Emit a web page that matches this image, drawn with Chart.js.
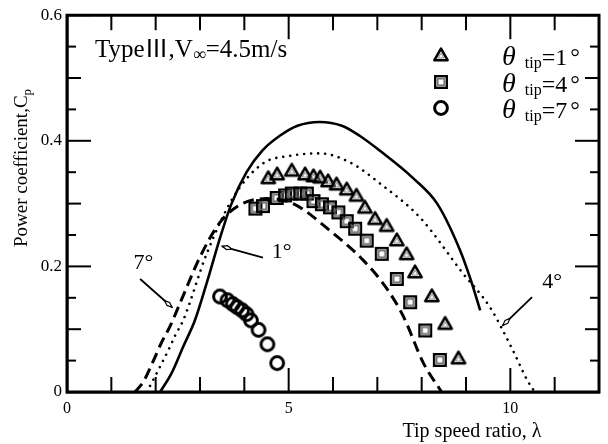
<!DOCTYPE html>
<html><head><meta charset="utf-8">
<script src="https://cdn.jsdelivr.net/npm/chart.js@4.4.1/dist/chart.umd.min.js"></script>
<style>html,body{margin:0;padding:0;background:#fff;}</style>
</head><body>
<canvas id="c" width="608" height="444"></canvas>
<script>
// ---------- data ----------
const xTickLabels = [0, 5, 10];
const yTickLabels = [0, 0.2, 0.4, 0.6];
const seriesNames = ['1°', '4°', '7°'];

// theoretical curves
const theory1X = [2.1, 2.36, 2.62, 2.89, 3.2, 3.45, 3.7, 4.05, 4.4, 4.8, 5.2, 5.7, 6.2, 6.6, 7.06, 7.8, 8.35, 8.87, 9.1, 9.32];
const theory1Y = [0, 0.03, 0.072, 0.115, 0.185, 0.245, 0.298, 0.35, 0.384, 0.408, 0.424, 0.43, 0.424, 0.408, 0.384, 0.341, 0.3, 0.225, 0.18, 0.13];

const theory4X = [1.8, 1.98, 2.14, 2.29, 2.44, 2.62, 3.15, 3.75, 4.42, 5.03, 5.7, 6.4, 7.06, 7.96, 8.93, 9.54, 10.06, 10.38, 10.55];
const theory4Y = [0, 0.024, 0.046, 0.067, 0.09, 0.114, 0.22, 0.31, 0.364, 0.376, 0.38, 0.365, 0.332, 0.278, 0.189, 0.135, 0.066, 0.019, 0];

const theory7X = [1.53, 1.72, 1.95, 2.14, 2.32, 2.6, 3.0, 3.45, 3.9, 4.5, 5.1, 5.93, 6.68, 7.21, 7.59, 8.04, 8.45];
const theory7Y = [0, 0.016, 0.05, 0.08, 0.104, 0.15, 0.215, 0.27, 0.298, 0.308, 0.3, 0.257, 0.21, 0.165, 0.12, 0.046, 0];

// experimental points
const exp1X = [4.54, 4.74, 5.07, 5.37, 5.56, 5.71, 5.89, 6.08, 6.31, 6.53, 6.72, 6.95, 7.21, 7.44, 7.66, 7.85, 8.23, 8.53, 8.83];
const exp1Y = [0.341, 0.347, 0.353, 0.347, 0.344, 0.342, 0.336, 0.331, 0.323, 0.313, 0.294, 0.276, 0.265, 0.242, 0.22, 0.191, 0.153, 0.109, 0.054];

const exp4X = [4.25, 4.42, 4.73, 4.92, 5.07, 5.26, 5.41, 5.56, 5.75, 5.93, 6.12, 6.31, 6.5, 6.76, 7.1, 7.44, 7.74, 8.08, 8.41];
const exp4Y = [0.292, 0.296, 0.309, 0.313, 0.316, 0.316, 0.316, 0.304, 0.299, 0.294, 0.286, 0.272, 0.26, 0.241, 0.22, 0.18, 0.143, 0.098, 0.051];

const exp7X = [3.45, 3.62, 3.74, 3.84, 3.95, 4.05, 4.15, 4.32, 4.52, 4.74];
const exp7Y = [0.152, 0.146, 0.14, 0.135, 0.13, 0.124, 0.114, 0.099, 0.076, 0.046];

// ---------- markers ----------
function makeMarker(kind) {
  const c = document.createElement('canvas');
  const S = 18; c.width = S; c.height = S;
  const g = c.getContext('2d');
  const m = S / 2;
  g.strokeStyle = '#000';
  if (kind === 'tri') {
    g.beginPath(); g.moveTo(m, 2.6); g.lineTo(m + 6.6, 14.2); g.lineTo(m - 6.6, 14.2); g.closePath();
    g.lineWidth = 2.6; g.lineJoin = 'round'; g.stroke();
    g.beginPath(); g.moveTo(m, 7.2); g.lineTo(m + 2.8, 12); g.lineTo(m - 2.8, 12); g.closePath();
    g.lineWidth = 1; g.strokeStyle = '#888'; g.stroke();
  } else if (kind === 'sq') {
    g.lineWidth = 2.4; g.strokeRect(m - 5.8, m - 5.8, 11.6, 11.6);
    g.lineWidth = 1.4; g.strokeStyle = '#666'; g.strokeRect(m - 3.2, m - 3.2, 6.4, 6.4);
  } else {
    g.beginPath(); g.arc(m, m, 6.4, 0, Math.PI * 2);
    g.lineWidth = 3; g.stroke();
  }
  return c;
}
const triM = makeMarker('tri'), sqM = makeMarker('sq'), ciM = makeMarker('ci');

const pts = (xs, ys) => xs.map((x, i) => ({ x: x, y: ys[i] }));
const SERIF = '"Liberation Serif", "DejaVu Serif", serif';

// ---------- decorations plugin ----------
const annotations = [
  { text: '7°', tx: 1.5, ty: 0.205, from: [1.65, 0.18], to: [2.37, 0.135] },
  { text: '1°', tx: 4.62, ty: 0.222, from: [4.42, 0.214], to: [3.5, 0.232] },
  { text: '4°', tx: 10.72, ty: 0.175, from: [10.49, 0.151], to: [9.83, 0.106] }
];

const deco = {
  id: 'deco',
  afterDraw(chart) {
    const ctx = chart.ctx;
    const xs = chart.scales.x, ys = chart.scales.y;
    ctx.save();
    ctx.setLineDash([]);
    ctx.strokeStyle = '#000'; ctx.fillStyle = '#000';
    const B0 = ys.getPixelForValue(0), T0 = ys.getPixelForValue(0.6);
    const L0 = xs.getPixelForValue(0), R0 = xs.getPixelForValue(12);
    ctx.lineWidth = 2;
    for (let v = 0; v <= 12; v++) {
      const px = xs.getPixelForValue(v);
      const len = (v % 5 === 0) ? 24 : 15;
      ctx.beginPath(); ctx.moveTo(px, B0); ctx.lineTo(px, B0 - len); ctx.stroke();
      ctx.beginPath(); ctx.moveTo(px, T0); ctx.lineTo(px, T0 + len); ctx.stroke();
    }
    for (let k = 0; k <= 12; k++) {
      const py = ys.getPixelForValue(k * 0.05);
      const len = (k % 4 === 0) ? 24 : (k % 2 === 0 ? 14 : 9);
      ctx.beginPath(); ctx.moveTo(L0, py); ctx.lineTo(L0 + len, py); ctx.stroke();
      ctx.beginPath(); ctx.moveTo(R0, py); ctx.lineTo(R0 - len, py); ctx.stroke();
    }
    ctx.lineWidth = 3;
    ctx.strokeStyle = '#000';
    ctx.beginPath(); ctx.rect(L0, T0, R0 - L0, B0 - T0); ctx.stroke();

    const line = (a, b, c, d) => { ctx.beginPath(); ctx.moveTo(a, b); ctx.lineTo(c, d); ctx.stroke(); };
    // annotations
    ctx.font = '22px ' + SERIF;
    ctx.textBaseline = 'middle'; ctx.textAlign = 'left';
    annotations.forEach(a => {
      const x0 = xs.getPixelForValue(a.from[0]), y0 = ys.getPixelForValue(a.from[1]);
      const x1 = xs.getPixelForValue(a.to[0]), y1 = ys.getPixelForValue(a.to[1]);
      ctx.lineWidth = 1.8;
      line(x0, y0, x1, y1);
      const ang = Math.atan2(y1 - y0, x1 - x0);
      ctx.save(); ctx.translate(x1, y1); ctx.rotate(ang);
      ctx.beginPath(); ctx.moveTo(0, 0); ctx.lineTo(-5, -2); ctx.lineTo(-10, 0); ctx.lineTo(-5, 2); ctx.closePath();
      ctx.fillStyle = '#fff'; ctx.fill(); ctx.lineWidth = 1.2; ctx.stroke();
      ctx.restore();
      ctx.fillStyle = '#000';
      ctx.fillText(a.text, xs.getPixelForValue(a.tx), ys.getPixelForValue(a.ty));
    });
    // in-plot title
    ctx.textBaseline = 'alphabetic';
    let tx = 95; const tb = 57;
    const seg = (s, font, dy) => { ctx.font = font; ctx.fillText(s, tx, tb + (dy || 0)); tx += ctx.measureText(s).width; };
    seg('Type', '25px ' + SERIF);
    seg('Ⅲ', '24px "Noto Sans CJK JP", ' + SERIF);
    seg(',V', '25px ' + SERIF);
    seg('∞', '18px ' + SERIF, 3);
    seg('=4.5m/s', '25px ' + SERIF);
    // legend
    const markers = [triM, sqM, ciM];
    const rowY = [55, 82, 108];
    seriesNames.forEach((n, i) => {
      const my = rowY[i];
      ctx.drawImage(markers[i], 441 - markers[i].width / 2, my - markers[i].height / 2);
      let lx = 502; const lb = my + 10;
      ctx.font = 'italic 28px ' + SERIF; ctx.fillText('θ', lx, lb); lx += ctx.measureText('θ').width + 9;
      ctx.font = '16px ' + SERIF; ctx.fillText('tip', lx, lb + 3); lx += ctx.measureText('tip').width;
      const main = '=' + n.replace('°', '');
      ctx.font = '24px ' + SERIF; ctx.fillText(main, lx, lb); lx += ctx.measureText(main).width + 3;
      ctx.fillText('°', lx, lb);
    });
    // axis titles
    ctx.font = '20px ' + SERIF;
    ctx.textAlign = 'center'; ctx.textBaseline = 'middle';
    ctx.fillText('Tip speed ratio, λ', 472, 432);
    ctx.save();
    ctx.translate(22, 168); ctx.rotate(-Math.PI / 2);
    ctx.textAlign = 'left';
    const mainT = 'Power coefficient,C';
    ctx.font = '19px ' + SERIF; const w1 = ctx.measureText(mainT).width;
    ctx.font = '13px ' + SERIF; const w2 = ctx.measureText('p').width;
    const sx = -(w1 + w2) / 2;
    ctx.font = '19px ' + SERIF; ctx.fillText(mainT, sx, 0);
    ctx.font = '13px ' + SERIF; ctx.fillText('p', sx + w1, 6);
    ctx.restore();
    ctx.restore();
  }
};

new Chart(document.getElementById('c').getContext('2d'), {
  type: 'scatter',
  data: {
    datasets: [
      { label: 'θtip=1° (theory)', data: pts(theory1X, theory1Y), showLine: true, borderColor: '#000', borderWidth: 2.6, pointRadius: 0, cubicInterpolationMode: 'monotone', fill: false },
      { label: 'θtip=4° (theory)', data: pts(theory4X, theory4Y), showLine: true, borderColor: '#000', borderWidth: 2.6, borderDash: [0.01, 7], borderCapStyle: 'round', pointRadius: 0, cubicInterpolationMode: 'monotone', fill: false },
      { label: 'θtip=7° (theory)', data: pts(theory7X, theory7Y), showLine: true, borderColor: '#000', borderWidth: 3, borderDash: [11, 6], pointRadius: 0, cubicInterpolationMode: 'monotone', fill: false },
      { label: 'θtip=1°', data: pts(exp1X, exp1Y), showLine: false, pointStyle: triM, pointRadius: 7 },
      { label: 'θtip=4°', data: pts(exp4X, exp4Y), showLine: false, pointStyle: sqM, pointRadius: 7 },
      { label: 'θtip=7°', data: pts(exp7X, exp7Y), showLine: false, pointStyle: ciM, pointRadius: 7 }
    ]
  },
  options: {
    responsive: false, animation: false, devicePixelRatio: 1,
    layout: { padding: { top: 14, right: 9, left: 0, bottom: 0 } },
    plugins: { legend: { display: false }, tooltip: { enabled: false } },
    scales: {
      x: {
        type: 'linear', min: 0, max: 12,
        grid: { display: false, drawTicks: false },
        border: { display: true, color: '#000', width: 2.5 },
        afterFit: s => { s.height = 52; },
        ticks: {
          stepSize: 1, autoSkip: false, maxRotation: 0, padding: 7, color: '#000',
          font: { family: SERIF, size: 16 },
          callback: v => xTickLabels.includes(v) ? String(v) : ''
        }
      },
      y: {
        type: 'linear', min: 0, max: 0.6,
        grid: { display: false, drawTicks: false },
        border: { display: true, color: '#000', width: 2.5 },
        afterFit: s => { s.width = 67; },
        ticks: {
          stepSize: 0.05, autoSkip: false, padding: 5, color: '#000',
          font: { family: SERIF, size: 17 },
          callback: v => { const r = Math.round(v * 100) / 100; return yTickLabels.some(t => Math.abs(t - r) < 1e-9) ? String(r) : ''; }
        }
      }
    }
  },
  plugins: [deco]
});
</script>
</body></html>
